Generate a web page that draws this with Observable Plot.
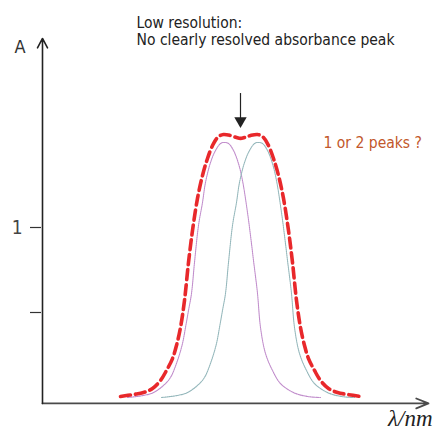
<!DOCTYPE html>
<html>
<head>
<meta charset="utf-8">
<script src="https://cdn.jsdelivr.net/npm/d3@7"></script>
<script src="https://cdn.jsdelivr.net/npm/@observablehq/plot@0.6"></script>
<style>
  html, body { margin: 0; padding: 0; background: #fff; }
  #chart svg { display: block; }
</style>
</head>
<body>
<div id="chart"></div>
<script>
// ---- Data (wavelength units, absorbance) ----
const peak1X = [85,101,111,121,128,135,140,143,146,149,152,156,160,163,168,173,178,181,186,191,196,200,205,208,211,215,218,223,230,238,251,265,278];
const peak1A = [0,0.012,0.029,0.071,0.118,0.218,0.318,0.412,0.512,0.612,0.794,1.012,1.147,1.265,1.382,1.453,1.494,1.5,1.494,1.453,1.376,1.276,1.088,0.953,0.806,0.612,0.412,0.259,0.159,0.082,0.029,0.006,0];
const peak2X = [119,135,145,155,162,169,174,177,180,183,186,190,194,197,202,207,212,215,220,225,230,234,239,242,245,249,252,257,264,272,285,299,312];
const peak2A = [0,0.012,0.029,0.071,0.118,0.218,0.318,0.412,0.512,0.612,0.794,1.012,1.147,1.265,1.382,1.453,1.494,1.5,1.494,1.453,1.376,1.276,1.088,0.953,0.806,0.612,0.412,0.259,0.159,0.082,0.029,0.006,0];
const sumX = [78,91,101,110,118,124,130,134,138,142,146,150,155,160,165,171,176,181,188,194,198,202,208,215,220,225,231,236,241,246,250,254,258,262,266,272,278,286,295,305,318];
const sumA = [0.006,0.018,0.029,0.053,0.1,0.159,0.229,0.306,0.412,0.571,0.794,0.982,1.171,1.306,1.406,1.494,1.535,1.547,1.541,1.529,1.524,1.529,1.541,1.547,1.535,1.494,1.406,1.306,1.171,0.982,0.794,0.571,0.412,0.306,0.229,0.159,0.1,0.053,0.029,0.018,0.006];

const yTicks = [0.5, 1];
const yTickLabels = [{v: 1, label: "1"}];
const axisLabelY = "A";
const axisLabelX = "λ/nm";
const noteLines = ["Low resolution:", "No clearly resolved absorbance peak"];
const noteQuestion = "1 or 2 peaks ?";

// ---- Layout helpers ----
const xDomain = [0, 386];
const yDomain = [0, 2.3353];
const xAxisY = -0.035;
const yAxisTop = 2.112;
const noteX = 198;         // x of the annotation arrow (at the dip)
const noteArrowTop = 1.788;
const noteArrowTip = 1.585;

const toRows = (xs, ys) => xs.map((x, i) => ({x, y: ys[i]}));
const p1 = toRows(peak1X, peak1A);
const p2 = toRows(peak2X, peak2A);
const sum = toRows(sumX, sumA);

const textFont = "'DejaVu Sans Condensed', 'Liberation Sans Narrow', 'Roboto', sans-serif";

const chart = Plot.plot({
  width: 436,
  height: 430,
  marginTop: 0, marginRight: 0, marginBottom: 0, marginLeft: 0,
  x: {domain: xDomain, range: [42, 428], axis: null},
  y: {domain: yDomain, range: [397, 0], axis: null},
  style: {background: "#fff"},
  marks: [
    // axes with open arrowheads
    Plot.arrow([{x1: 0, x2: xDomain[1], y1: xAxisY, y2: xAxisY}], {
      x1: "x1", x2: "x2", y1: "y1", y2: "y2",
      stroke: "#4a4a4a", strokeWidth: 1.8, headLength: 11, headAngle: 44
    }),
    Plot.arrow([{x1: 0, x2: 0, y1: xAxisY, y2: yAxisTop}], {
      x1: "x1", x2: "x2", y1: "y1", y2: "y2",
      stroke: "#222", strokeWidth: 1.6, headLength: 10, headAngle: 56
    }),
    // y ticks
    Plot.ruleY(yTicks, {x1: -12, x2: -1, stroke: "#333", strokeWidth: 1.2}),
    Plot.text(yTickLabels, {
      x: -20, y: "v", text: "label", textAnchor: "end",
      fontSize: 19, fill: "#444", fontFamily: textFont
    }),
    // axis labels
    Plot.text([axisLabelY], {
      x: -17, y: 2.058, text: d => d, textAnchor: "end",
      fontSize: 18, fill: "#333", fontFamily: textFont
    }),
    Plot.text([axisLabelX], {
      x: 390, y: -0.125, text: d => d, textAnchor: "end",
      fontSize: 23, fill: "#222", fontStyle: "italic",
      fontFamily: "'Liberation Serif', 'DejaVu Serif', serif"
    }),
    // component peaks
    Plot.line(p1, {x: "x", y: "y", curve: "catmull-rom", stroke: "#c08ccb", strokeWidth: 1.1, strokeDasharray: "1.2,0.8"}),
    Plot.line(p2, {x: "x", y: "y", curve: "catmull-rom", stroke: "#94b7bb", strokeWidth: 1.1, strokeDasharray: "1.2,0.8"}),
    // measured (sum) spectrum
    Plot.line(sum, {x: "x", y: "y", curve: "catmull-rom", stroke: "#e8282b", strokeWidth: 3.6, strokeDasharray: "10,5"}),
    // annotation
    Plot.ruleX([noteX], {y1: noteArrowTop, y2: noteArrowTip + 0.03, stroke: "#222", strokeWidth: 1.2}),
    Plot.dot([noteX], {x: d => d, y: noteArrowTip + 0.043, symbol: "triangle", r: 4.6, rotate: 180, fill: "#222", stroke: "none"}),
    Plot.text([noteLines[0]], {
      x: 94, y: 2.2, text: d => d, textAnchor: "start",
      fontSize: 15.5, fill: "#222", fontFamily: textFont
    }),
    Plot.text([noteLines[1]], {
      x: 94, y: 2.1, text: d => d, textAnchor: "start",
      fontSize: 15.5, fill: "#222", fontFamily: textFont
    }),
    Plot.text([noteQuestion], {
      x: 281, y: 1.494, text: d => d, textAnchor: "start",
      fontSize: 15.5, fill: "#c2572b", fontFamily: textFont
    })
  ]
});

document.getElementById("chart").appendChild(chart);
</script>
</body>
</html>
